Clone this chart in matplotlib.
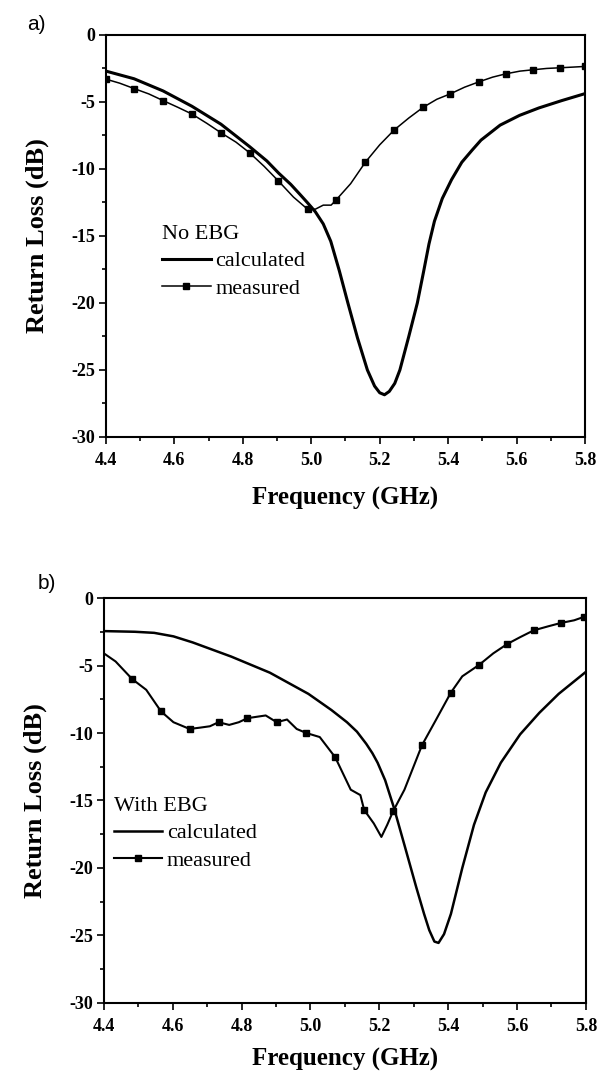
import matplotlib
matplotlib.use('Agg')
import matplotlib.pyplot as plt
from matplotlib.ticker import MultipleLocator, FormatStrFormatter

plt.rcParams['font.family'] = ['Liberation Serif', 'DejaVu Serif']
plt.rcParams['axes.unicode_minus'] = False

# a) No EBG
a_calc_f = [4.400, 4.482, 4.567, 4.651, 4.736, 4.820, 4.870, 4.905, 4.940, 4.967,
            4.990, 5.012, 5.035, 5.057, 5.082, 5.107, 5.135, 5.164, 5.185, 5.200,
            5.214, 5.228, 5.244, 5.259, 5.285, 5.310, 5.328, 5.344, 5.360, 5.383,
            5.410, 5.440, 5.470, 5.496, 5.552, 5.609, 5.665, 5.732, 5.800]
a_calc_db = [-2.70, -3.27, -4.18, -5.32, -6.66, -8.34, -9.4, -10.32, -11.15, -11.9,
             -12.55, -13.2, -14.1, -15.4, -17.6, -20.0, -22.6, -25.0, -26.2, -26.7,
             -26.85, -26.6, -26.0, -25.0, -22.5, -20.0, -17.7, -15.6, -13.9, -12.2,
             -10.8, -9.5, -8.6, -7.85, -6.73, -6.0, -5.45, -4.9, -4.38]

a_meas_f = [4.400, 4.440, 4.482, 4.525, 4.567, 4.610, 4.651, 4.695, 4.736, 4.780,
            4.820, 4.862, 4.904, 4.948, 4.989, 5.012, 5.035, 5.058, 5.073, 5.115,
            5.158, 5.200, 5.242, 5.285, 5.327, 5.367, 5.406, 5.448, 5.490, 5.530,
            5.569, 5.610, 5.648, 5.688, 5.727, 5.765, 5.800]
a_meas_db = [-3.3, -3.6, -4.0, -4.4, -4.9, -5.4, -5.9, -6.6, -7.3, -8.0,
             -8.8, -9.8, -10.9, -12.1, -13.0, -13.0, -12.7, -12.7, -12.3, -11.1,
             -9.5, -8.2, -7.1, -6.2, -5.4, -4.8, -4.4, -3.9, -3.5, -3.15,
             -2.9, -2.7, -2.6, -2.5, -2.45, -2.4, -2.35]
a_meas_marks = [0, 2, 4, 6, 8, 10, 12, 14, 18, 20, 22, 24, 26, 28, 30, 32, 34, 36]

# b) With EBG
b_calc_f = [4.400, 4.490, 4.546, 4.602, 4.658, 4.770, 4.882, 4.994, 5.061, 5.106,
            5.135, 5.162, 5.180, 5.195, 5.217, 5.242, 5.273, 5.307, 5.330, 5.345,
            5.360, 5.372, 5.388, 5.408, 5.441, 5.475, 5.509, 5.553, 5.609, 5.665,
            5.721, 5.800]
b_calc_db = [-2.45, -2.5, -2.58, -2.84, -3.29, -4.34, -5.53, -7.1, -8.3, -9.2,
             -9.9, -10.8, -11.5, -12.2, -13.5, -15.5, -18.3, -21.4, -23.4, -24.6,
             -25.45, -25.55, -24.9, -23.4, -20.0, -16.8, -14.4, -12.2, -10.1, -8.5,
             -7.1, -5.47]

b_meas_f = [4.400, 4.434, 4.482, 4.523, 4.566, 4.602, 4.649, 4.680, 4.708, 4.733,
            4.764, 4.792, 4.817, 4.870, 4.902, 4.932, 4.960, 4.988, 5.027, 5.072,
            5.117, 5.145, 5.156, 5.184, 5.206, 5.223, 5.240, 5.273, 5.324, 5.363,
            5.408, 5.441, 5.490, 5.531, 5.572, 5.609, 5.648, 5.690, 5.727, 5.766,
            5.794]
b_meas_db = [-4.1, -4.7, -6.0, -6.8, -8.4, -9.2, -9.7, -9.6, -9.5, -9.2,
             -9.4, -9.2, -8.9, -8.7, -9.2, -9.0, -9.7, -10.0, -10.3, -11.8,
             -14.2, -14.6, -15.7, -16.7, -17.7, -16.8, -15.8, -14.2, -10.9, -9.1,
             -7.0, -5.8, -4.95, -4.1, -3.4, -2.9, -2.4, -2.1, -1.85, -1.65,
             -1.4]
b_meas_marks = [2, 4, 6, 9, 12, 14, 17, 19, 22, 26, 28, 30, 32, 34, 36, 38, 40]

fig = plt.figure(figsize=(6.04, 10.75), dpi=100)
ax_a = fig.add_axes([0.1755, 0.5935, 0.793, 0.374])
ax_b = fig.add_axes([0.172, 0.067, 0.798, 0.3767])


def draw_panel(ax, calc_f, calc_db, meas_f, meas_db, marks, title,
               calc_lw, meas_lw, anchor, xlabelpad):
    ax.plot(calc_f, calc_db, color='black', lw=calc_lw, label='calculated')
    ax.plot(meas_f, meas_db, color='black', lw=meas_lw, marker='s', markersize=4.5,
            markevery=marks, label='measured')

    ax.set_xlim(4.4, 5.8)
    ax.set_ylim(-30, 0)
    ax.xaxis.set_major_locator(MultipleLocator(0.2))
    ax.xaxis.set_minor_locator(MultipleLocator(0.1))
    ax.yaxis.set_major_locator(MultipleLocator(5))
    ax.yaxis.set_minor_locator(MultipleLocator(2.5))
    ax.xaxis.set_major_formatter(FormatStrFormatter('%.1f'))
    ax.tick_params(which='both', direction='out', top=False, right=False, width=1.2)
    ax.tick_params(which='major', length=5, labelsize=13)
    ax.tick_params(which='minor', length=3)
    ax.tick_params(axis='x', which='major', pad=6)
    ax.tick_params(axis='y', which='major', pad=3)
    for lab in ax.get_xticklabels() + ax.get_yticklabels():
        lab.set_fontweight('bold')
    for sp in ax.spines.values():
        sp.set_linewidth(1.5)

    ax.set_xlabel('Frequency (GHz)', fontsize=18, fontweight='bold', labelpad=xlabelpad)
    ax.set_ylabel('Return Loss (dB)', fontsize=19, fontweight='bold', labelpad=16)

    ax.legend(title=title, loc='upper left', bbox_to_anchor=anchor,
              frameon=False, fontsize=16, title_fontsize=16, alignment='left',
              handlelength=2.2, handletextpad=0.2, borderpad=0,
              borderaxespad=0, labelspacing=0.3, numpoints=1)


draw_panel(ax_a, a_calc_f, a_calc_db, a_meas_f, a_meas_db, a_meas_marks,
           'No EBG', 2.2, 1.1, (0.117, 0.527), 13)
draw_panel(ax_b, b_calc_f, b_calc_db, b_meas_f, b_meas_db, b_meas_marks,
           'With EBG', 1.8, 1.5, (0.02, 0.508), 9)

fig.text(0.045, 0.977, 'a)', fontsize=15, family='Liberation Sans', va='center')
fig.text(0.062, 0.457, 'b)', fontsize=15, family='Liberation Sans', va='center')

fig.savefig('out.png', dpi=100)
